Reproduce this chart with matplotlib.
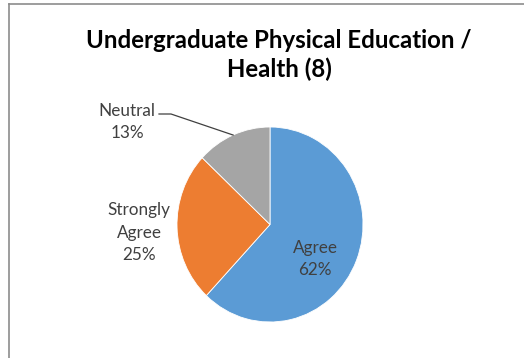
import numpy as np
import matplotlib.pyplot as plt
from matplotlib.lines import Line2D

categories = ['Agree', 'Strongly\nAgree', 'Neutral']
percents = [62, 25, 13]
colors = ['#5B9BD5', '#ED7D31', '#A5A5A5']
title = 'Undergraduate Physical Education /\nHealth (8)'

W, H = 524, 358
fig = plt.figure(figsize=(W / 100, H / 100), dpi=100)
fig.patch.set_facecolor('white')


def fx(px):
    return px / W


def fy(py):
    return 1 - py / H


# chart area frame (left and top edges only)
fig.add_artist(Line2D([fx(8.5), fx(8.5)], [fy(3.5), 0], color='#8c8c8c', lw=1.2))
fig.add_artist(Line2D([fx(8.5), 1], [fy(3.5), fy(3.5)], color='#8c8c8c', lw=1.2))

fig.text(fx(279), fy(55), title, ha='center', va='center', fontsize=17.3,
         fontweight='bold', family='Lato', color='black', linespacing=1.3)

# pie area
left, right, top, bottom = 177, 363, 127, 322
ax = fig.add_axes([fx(left), fy(bottom), fx(right - left), (bottom - top) / H])
wedges, _ = ax.pie(percents, colors=colors, startangle=90, counterclock=False,
                   wedgeprops=dict(edgecolor='white', linewidth=0.6))
ax.set_aspect('auto')
ax.set_xlim(-1, 1)
ax.set_ylim(-1, 1)

rx = (right - left) / 2
ry = (bottom - top) / 2
cx, cy = left + rx, top + ry


def dx(px):
    return (px - cx) / rx


def dy(py):
    return (cy - py) / ry


txt = dict(ha='center', va='center', fontsize=12.3, family='Lato',
           color='#404040', linespacing=1.5)
ax.text(dx(315), dy(259), f'{categories[0]}\n{percents[0]}%', **txt)
ax.text(dx(139), dy(233), f'{categories[1]}\n{percents[1]}%', **txt)
ax.text(dx(127), dy(122), f'{categories[2]}\n{percents[2]}%', **txt)

# leader line from the neutral wedge
w = wedges[2]
mid = np.deg2rad((w.theta1 + w.theta2) / 2)
ex, ey = np.cos(mid), np.sin(mid)
ax.plot([ex, dx(171), dx(159)], [ey, dy(114), dy(114)], color='#404040',
        lw=0.9, clip_on=False)

fig.savefig('out.png', dpi=100, facecolor='white')
